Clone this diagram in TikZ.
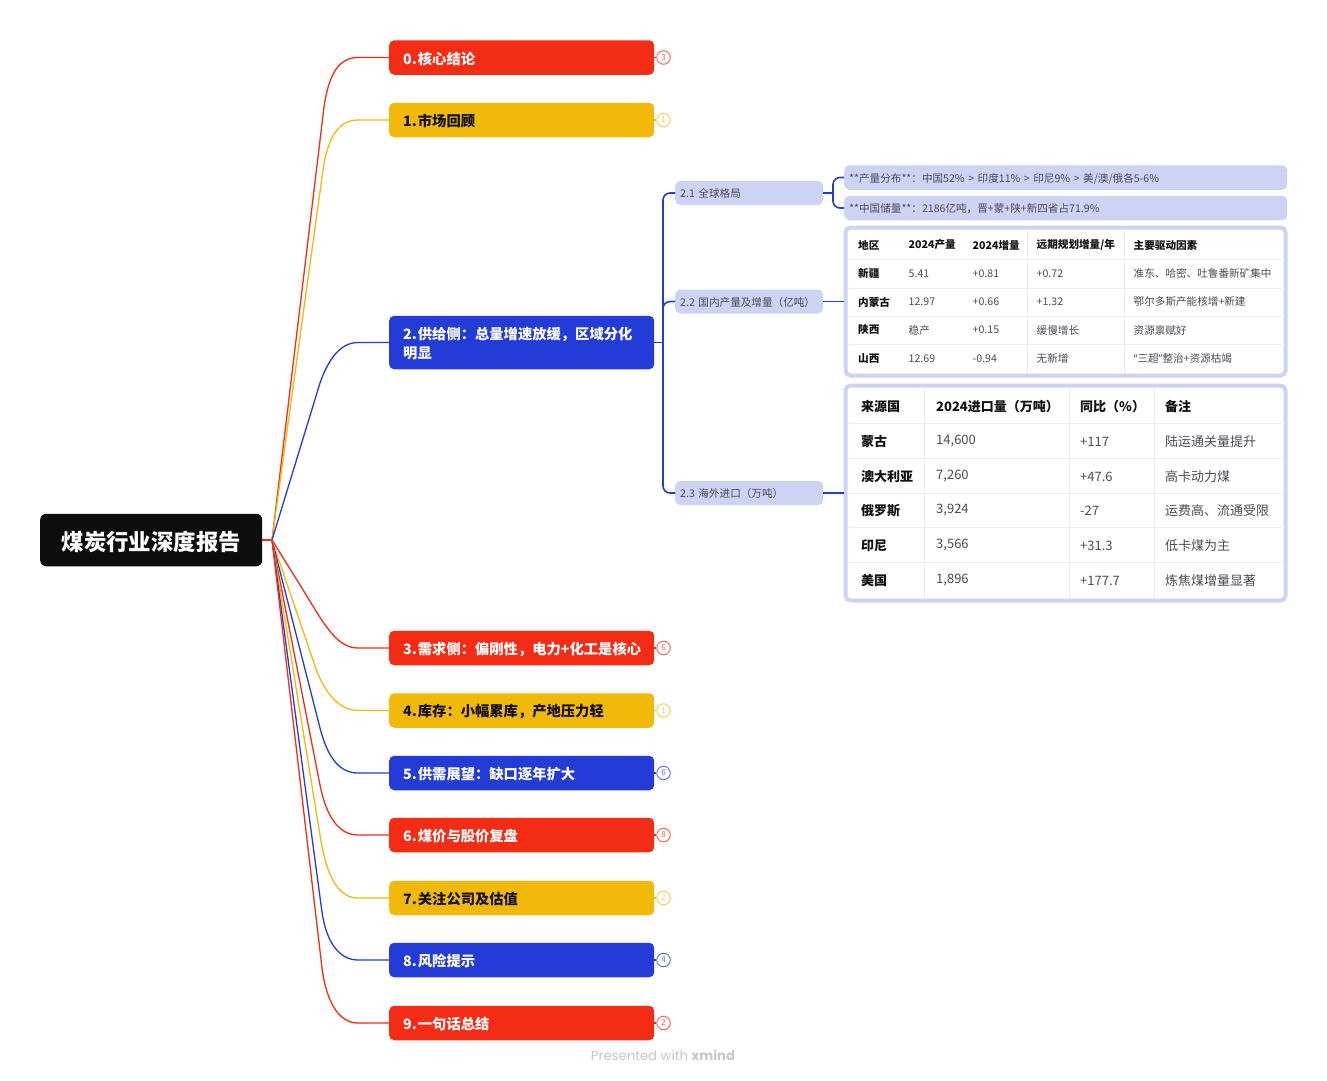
\documentclass[tikz,border=0pt]{standalone}
\usepackage{fontspec}
\setmainfont{Noto Sans CJK SC}
\newfontfamily\wmfont{Poppins}
\newfontfamily\latn{Noto Sans}
\definecolor{xred}{HTML}{F52C15}
\definecolor{xyel}{HTML}{F2B90A}
\definecolor{xblu}{HTML}{233CD8}
\definecolor{xsub}{HTML}{CDD3F5}
\definecolor{xink}{HTML}{111111}
\definecolor{xgrey}{HTML}{4A4A55}
\definecolor{xsep}{HTML}{ECEDF2}
\newcommand{\fs}[1]{\fontsize{#1}{19}\selectfont}
\newcommand{\dn}[2]{\raisebox{-#1pt}[\height][\depth]{#2}}
\tikzset{
 x=1pt,y=-1pt,
 topic/.style={anchor=west,rounded corners=5,text width=237,inner xsep=14,inner ysep=0,minimum height=34.5,align=left,font=\fs{14.3}\bfseries},
 redt/.style={topic,fill=xred,text=white},
 yelt/.style={topic,fill=xyel,text=xink},
 blut/.style={topic,fill=xblu,text=white},
 badge/.style={circle,draw=#1!70,fill=white,line width=1,minimum size=13.5,inner sep=0,text=#1!75,font=\fs{8}},
 sub/.style={anchor=west,fill=xsub,rounded corners=5,minimum height=24,minimum width=148,text width=138,inner xsep=5,inner ysep=0,align=left,text=xgrey,font=\fs{10.6}},
 leaf/.style={anchor=west,fill=xsub,rounded corners=5,minimum height=24.5,text width=433,inner xsep=5,minimum width=443,inner ysep=0,align=left,text=xgrey,font=\fs{10.6}},
 tabbox/.style={draw=xsub,fill=white,line width=4,rounded corners=5,inner sep=0},
 ca/.style={anchor=west,inner sep=0,text=xink,font=\fs{10.6}\bfseries},
 cb/.style={anchor=west,inner sep=0,text=xgrey,font=\fs{10.6}},
 cc/.style={anchor=west,inner sep=0,yshift=-0.5,text=xink,font=\fs{13}\bfseries},
 cd/.style={anchor=west,inner sep=0,yshift=-0.5,text=xgrey,font=\fs{13}},
 rule/.style={xsep,line width=0.8},
 branch/.style={line width=1.3,#1},
 trunk/.style={line width=1.6,xblu},
}
\newcommand{\cell}[5]{\node[#1] (#2) at (#3,#4) {#5};}
\begin{document}
\begin{tikzpicture}
\useasboundingbox (0,0) rectangle (1327,1080);
\fill[white] (0,0) rectangle (1327,1080);
% root and topics
\node[anchor=west,fill=black!95,rounded corners=6,minimum width=222,minimum height=52.5,inner sep=0,text=white,font=\fs{22.4}\bfseries] (root) at (40,540) {\dn{1.5}{煤炭行业深度报告}};
\coordinate (hub) at (272,540);
\node[redt] (t0) at (389,57.5) {\dn{1}{0.\kern1pt 核心结论}};
\node[yelt] (t1) at (389,120) {\dn{1}{1.\kern1pt 市场回顾}};
\node[blut,minimum height=53.5] (t2) at (389,342.5) {\dn{1}{2.\kern1pt 供给侧：总量增速放缓，区域分化}\\\dn{1}{明显}};
\node[redt] (t3) at (389,648) {\dn{1}{3.\kern1pt 需求侧：偏刚性，电力+化工是核心}};
\node[yelt] (t4) at (389,710.5) {\dn{1}{4.\kern1pt 库存：小幅累库，产地压力轻}};
\node[blut] (t5) at (389,773) {\dn{1}{5.\kern1pt 供需展望：缺口逐年扩大}};
\node[redt] (t6) at (389,835) {\dn{1}{6.\kern1pt 煤价与股价复盘}};
\node[yelt] (t7) at (389,898) {\dn{1}{7.\kern1pt 关注公司及估值}};
\node[blut] (t8) at (389,960) {\dn{1}{8.\kern1pt 风险提示}};
\node[redt] (t9) at (389,1023) {\dn{1}{9.\kern1pt 一句话总结}};
% connectors root -> topics
\draw[branch=xred] (root.east) -- (hub);
\draw[branch=xred] (hub) -- (324,107) .. controls (329,72) and (340,57.5) .. ([xshift=-31]t0.west) -- (t0.west);
\draw[branch=xyel] (hub) -- (323,170) .. controls (328,135) and (340,120) .. ([xshift=-31]t1.west) -- (t1.west);
\draw[branch=xblu] (hub) -- (320,383) .. controls (328,360) and (340,342.5) .. ([xshift=-31]t2.west) -- (t2.west);
\draw[branch=xred] (hub) -- (300,585) .. controls (322,620) and (335,648) .. ([xshift=-31]t3.west) -- (t3.west);
\draw[branch=xyel] (hub) -- (313,660) .. controls (322,690) and (338,710.5) .. ([xshift=-31]t4.west) -- (t4.west);
\draw[branch=xblu] (hub) -- (320,728) .. controls (327,755) and (338,773) .. ([xshift=-31]t5.west) -- (t5.west);
\draw[branch=xred] (hub) -- (320,785) .. controls (326,815) and (338,835) .. ([xshift=-31]t6.west) -- (t6.west);
\draw[branch=xyel] (hub) -- (320,835) .. controls (326,875) and (338,898) .. ([xshift=-31]t7.west) -- (t7.west);
\draw[branch=xblu] (hub) -- (322,912) .. controls (326,940) and (338,960) .. ([xshift=-31]t8.west) -- (t8.west);
\draw[branch=xred] (hub) -- (322,968) .. controls (326,1000) and (338,1023) .. ([xshift=-31]t9.west) -- (t9.west);
% badges
\node[badge=xred] (b0) at (663.5,57.5) {3};
\node[badge=xyel] (b1) at (663.5,120) {1};
\node[badge=xred] (b3) at (663.5,648) {6};
\node[badge=xyel] (b4) at (663.5,710.5) {1};
\node[badge=xblu] (b5) at (663.5,773) {6};
\node[badge=xred] (b6) at (663.5,835) {8};
\node[badge=xyel] (b7) at (663.5,898) {2};
\node[badge=xblu] (b8) at (663.5,960) {4};
\node[badge=xred] (b9) at (663.5,1023) {2};
\draw[branch=xred] (t0.east) -- (b0.west);
\draw[branch=xyel] (t1.east) -- (b1.west);
\draw[branch=xred] (t3.east) -- (b3.west);
\draw[branch=xyel] (t4.east) -- (b4.west);
\draw[branch=xblu] (t5.east) -- (b5.west);
\draw[branch=xred] (t6.east) -- (b6.west);
\draw[branch=xyel] (t7.east) -- (b7.west);
\draw[branch=xblu] (t8.east) -- (b8.west);
\draw[branch=xred] (t9.east) -- (b9.west);
% subtopics
\node[sub] (s1) at (675,193) {\dn{0.5}{2.1 全球格局}};
\node[sub] (s2) at (675,301.5) {\dn{0.5}{2.2 国内产量及增量（亿吨）}};
\node[sub] (s3) at (675,493) {\dn{0.5}{2.3 海外进口（万吨）}};
\coordinate (tr) at (663,342.5);
\draw[trunk] (t2.east) -- (tr);
\draw[trunk,rounded corners=7] (s1.west) -| (tr);
\draw[trunk,rounded corners=7] (s2.west) -| (tr);
\draw[trunk,rounded corners=7] (s3.west) -| (tr);
% leaves
\node[leaf] (l1) at (844,177.5) {\dn{1}{**产量分布**：中国52\% > 印度11\% > 印尼9\% > 美/澳/俄各5-6\%}};
\node[leaf] (l2) at (844,208) {\dn{1}{**中国储量**：2186亿吨，晋+蒙+陕+新四省占71.9\%}};
\coordinate (j1) at (833,193);
\draw[trunk] (s1.east) -- (j1);
\draw[trunk,rounded corners=7] (l1.west) -| (j1);
\draw[trunk,rounded corners=7] (l2.west) -| (j1);
% table 1
\node[tabbox,minimum width=440,minimum height=148] (tab1) at (1065.5,301.5) {};
\draw[trunk] (s2.east) -- (tab1.west);
\foreach \yy in {259.5,288,316,344.5} \draw[rule] (849,\yy) -- (1282,\yy);
\foreach \xx in {1027,1124} \draw[rule] (\xx,230) -- (\xx,373);
\cell{ca}{a00}{858}{245}{地区}
\cell{ca}{a01}{908.5}{245}{2024产量}
\cell{ca}{a02}{972.5}{245}{2024增量}
\cell{ca}{a03}{1036.5}{245}{远期规划增量/年}
\cell{ca}{a04}{1133.5}{245}{主要驱动因素}
\cell{ca}{a10}{858}{273.5}{新疆}
\cell{cb}{a11}{908.5}{273.5}{5.41}
\cell{cb}{a12}{972.5}{273.5}{+0.81}
\cell{cb}{a13}{1036.5}{273.5}{+0.72}
\cell{cb}{a14}{1133.5}{273.5}{准东、哈密、吐鲁番新矿集中}
\cell{ca}{a20}{858}{302}{内蒙古}
\cell{cb}{a21}{908.5}{302}{12.97}
\cell{cb}{a22}{972.5}{302}{+0.66}
\cell{cb}{a23}{1036.5}{302}{+1.32}
\cell{cb}{a24}{1133.5}{302}{鄂尔多斯产能核增+新建}
\cell{ca}{a30}{858}{330}{陕西}
\cell{cb}{a31}{908.5}{330}{稳产}
\cell{cb}{a32}{972.5}{330}{+0.15}
\cell{cb}{a33}{1036.5}{330}{缓慢增长}
\cell{cb}{a34}{1133.5}{330}{资源禀赋好}
\cell{ca}{a40}{858}{358.5}{山西}
\cell{cb}{a41}{908.5}{358.5}{12.69}
\cell{cb}{a42}{972.5}{358.5}{-0.94}
\cell{cb}{a43}{1036.5}{358.5}{无新增}
\cell{cb}{a44}{1133.5}{358.5}{{\latn “}三超{\latn ”}整治+资源枯竭}
% table 2
\node[tabbox,minimum width=440,minimum height=215] (tab2) at (1065.5,493) {};
\draw[trunk] (s3.east) -- (tab2.west);
\foreach \yy in {423.5,458.5,493,527.5,562} \draw[rule] (849,\yy) -- (1282,\yy);
\foreach \xx in {924,1069,1154} \draw[rule] (\xx,388) -- (\xx,598);
\cell{cc}{c00}{861}{406}{来源国}
\cell{cc}{c01}{936}{406}{2024进口量（万吨）}
\cell{cc}{c02}{1080}{406}{同比（\%）}
\cell{cc}{c03}{1165}{406}{备注}
\cell{cc}{c10}{861}{441}{蒙古}
\cell{cd}{c11}{936}{441}{14,600}
\cell{cd}{c12}{1080}{441}{+117}
\cell{cd}{c13}{1165}{441}{陆运通关量提升}
\cell{cc}{c20}{861}{476}{澳大利亚}
\cell{cd}{c21}{936}{476}{7,260}
\cell{cd}{c22}{1080}{476}{+47.6}
\cell{cd}{c23}{1165}{476}{高卡动力煤}
\cell{cc}{c30}{861}{510}{俄罗斯}
\cell{cd}{c31}{936}{510}{3,924}
\cell{cd}{c32}{1080}{510}{-27}
\cell{cd}{c33}{1165}{510}{运费高、流通受限}
\cell{cc}{c40}{861}{545}{印尼}
\cell{cd}{c41}{936}{545}{3,566}
\cell{cd}{c42}{1080}{545}{+31.3}
\cell{cd}{c43}{1165}{545}{低卡煤为主}
\cell{cc}{c50}{861}{580}{美国}
\cell{cd}{c51}{936}{580}{1,896}
\cell{cd}{c52}{1080}{580}{+177.7}
\cell{cd}{c53}{1165}{580}{炼焦煤增量显著}
% watermark
\node[inner sep=0,text=black!22,font=\wmfont\fs{13.2}] (wm) at (663,1055) {Presented with \textbf{xmind}};
\end{tikzpicture}
\end{document}
